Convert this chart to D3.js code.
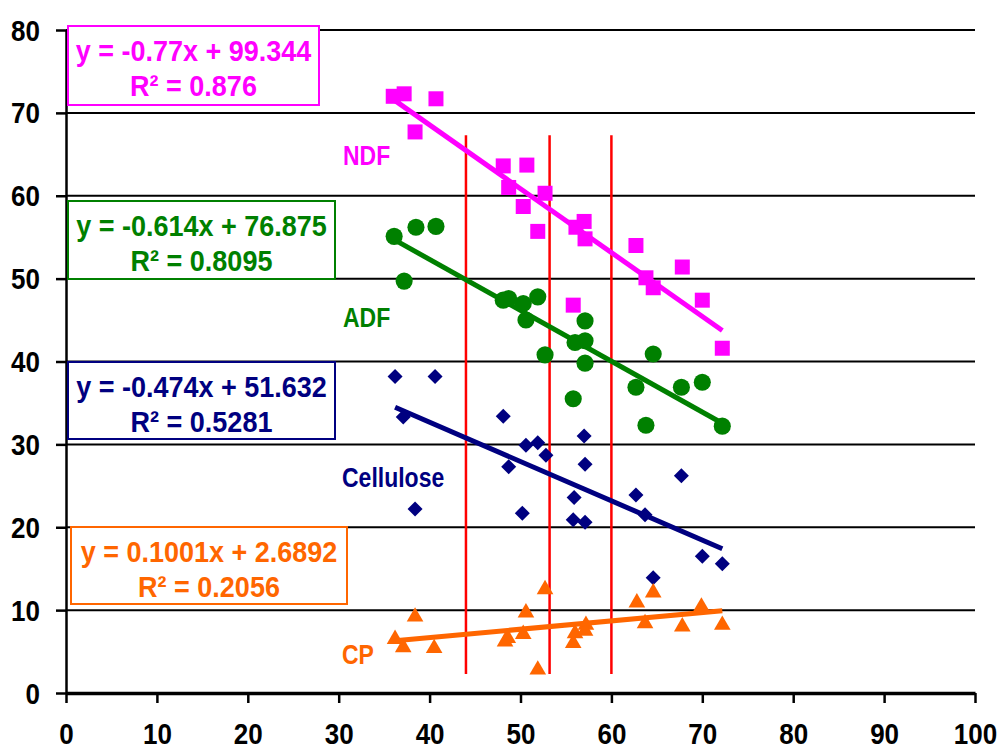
<!DOCTYPE html>
<html>
<head>
<meta charset="utf-8">
<script src="https://cdn.jsdelivr.net/npm/d3@7"></script>
<style>
  body { margin: 0; background: #fff; }
  text { font-family: "Liberation Sans", Arial, sans-serif; font-weight: bold; }
</style>
</head>
<body>
<svg width="998" height="750"></svg>
<script>
// Data
var ndfX = [36.0, 37.2, 40.7, 38.4, 48.1, 50.7, 48.7, 50.3, 52.7, 51.9, 57.0, 56.1, 57.1, 55.8, 62.7, 63.8, 64.6, 67.8, 70.0, 72.2];
var ndfY = [72.0, 72.3, 71.7, 67.7, 63.6, 63.7, 61.0, 58.7, 60.3, 55.7, 56.9, 56.2, 54.8, 46.8, 54.0, 50.1, 48.9, 51.4, 47.4, 41.6];

var adfX = [36.1, 38.5, 40.7, 37.2, 48.1, 48.7, 50.3, 51.9, 50.6, 57.1, 56.0, 57.1, 52.7, 57.1, 64.6, 55.8, 62.7, 67.7, 70.0, 63.8, 72.2];
var adfY = [55.1, 56.2, 56.3, 49.7, 47.4, 47.6, 47.0, 47.8, 45.0, 44.9, 42.3, 42.5, 40.8, 39.8, 40.9, 35.5, 36.9, 36.9, 37.5, 32.3, 32.2];

var celX = [36.2, 40.6, 37.1, 48.1, 50.6, 51.9, 52.8, 57.0, 57.1, 48.7, 67.7, 38.4, 50.2, 55.9, 62.7, 63.7, 55.8, 57.1, 70.0, 72.2, 64.6];
var celY = [38.2, 38.2, 33.3, 33.4, 29.9, 30.2, 28.7, 31.0, 27.6, 27.3, 26.2, 22.2, 21.7, 23.6, 23.9, 21.5, 20.9, 20.6, 16.5, 15.6, 13.9];

var cpX = [36.2, 37.1, 38.4, 40.5, 48.3, 48.6, 50.6, 50.3, 52.7, 51.9, 55.8, 56.0, 57.2, 57.1, 62.8, 64.6, 63.7, 67.8, 69.9, 72.2];
var cpY = [6.5, 5.5, 9.2, 5.4, 6.2, 6.6, 9.7, 7.1, 12.5, 2.8, 6.0, 7.2, 8.2, 7.5, 10.9, 12.1, 8.4, 8.0, 10.4, 8.2];

// Trendline coefficients (as printed)
var slopes = [-0.77, -0.614, -0.474, 0.1001];
var intercepts = [99.344, 76.875, 51.632, 2.6892];
var eqLabels = ["y = -0.77x + 99.344", "y = -0.614x + 76.875", "y = -0.474x + 51.632", "y = 0.1001x + 2.6892"];
var r2Labels = ["R\u00b2 = 0.876", "R\u00b2 = 0.8095", "R\u00b2 = 0.5281", "R\u00b2 = 0.2056"];
var seriesNames = ["NDF", "ADF", "Cellulose", "CP"];

// red reference lines
var refX = [44.0, 53.2, 60.0];
var refYRange = [2.3, 67.3];

var xTicks = [0, 10, 20, 30, 40, 50, 60, 70, 80, 90, 100];
var yTicks = [0, 10, 20, 30, 40, 50, 60, 70, 80];

var svg = d3.select("svg");
var colors = ["#ff00ff", "#008000", "#000080", "#ff6600"];

var x = d3.scaleLinear().domain([0, 100]).range([66, 975]);
var y = d3.scaleLinear().domain([0, 80]).range([693, 30]);

// gridlines
svg.append("g")
  .selectAll("line")
  .data(yTicks.filter(function (d) { return d > 0; }))
  .enter()
  .append("line")
  .attr("x1", x(0)).attr("x2", x(100))
  .attr("y1", function (d) { return y(d); })
  .attr("y2", function (d) { return y(d); })
  .attr("stroke", "#000")
  .attr("stroke-width", 2);

// axes
var xAxis = svg.append("g")
  .attr("transform", "translate(0," + y(0) + ")")
  .call(d3.axisBottom(x).tickValues(xTicks).tickSize(10).tickSizeOuter(0));
xAxis.select(".domain").attr("stroke-width", 3.5);
xAxis.selectAll(".tick line").attr("stroke-width", 2.5);
xAxis.selectAll(".tick text")
  .attr("font-size", 26)
  .attr("fill", "#000")
  .attr("dy", null)
  .attr("y", 0)
  .attr("transform", "translate(0,51) scale(1,1.1)");

var yAxis = svg.append("g")
  .attr("transform", "translate(" + x(0) + ",0)")
  .call(d3.axisLeft(y).tickValues(yTicks).tickSize(10).tickSizeOuter(0));
yAxis.select(".domain").attr("stroke-width", 2.5);
yAxis.selectAll(".tick line").attr("stroke-width", 2.5);
yAxis.selectAll(".tick text")
  .attr("font-size", 26)
  .attr("fill", "#000")
  .attr("x", 0)
  .attr("dy", null)
  .attr("transform", "translate(-26,10) scale(1,1.12)");

// equation boxes
var boxes = [
  { x: 68, y: 26, w: 251, h: 79 },
  { x: 68, y: 201, w: 267, h: 78 },
  { x: 68, y: 362, w: 267, h: 77 },
  { x: 71, y: 527, w: 276, h: 77 }
];
boxes.forEach(function (b, i) {
  var g = svg.append("g");
  g.append("rect")
    .attr("x", b.x).attr("y", b.y)
    .attr("width", b.w).attr("height", b.h)
    .attr("fill", "#fff")
    .attr("stroke", colors[i])
    .attr("stroke-width", 2);
  g.append("text")
    .attr("transform", "translate(" + (b.x + b.w / 2) + "," + (b.y + 35) + ") scale(1,1.08)")
    .attr("text-anchor", "middle")
    .attr("font-size", 27)
    .attr("fill", colors[i])
    .text(eqLabels[i]);
  g.append("text")
    .attr("transform", "translate(" + (b.x + b.w / 2) + "," + (b.y + 70) + ") scale(1,1.08)")
    .attr("text-anchor", "middle")
    .attr("font-size", 27)
    .attr("fill", colors[i])
    .text(r2Labels[i]);
});

// series labels
var labelPos = [[343, 165], [343, 327], [342, 487], [342, 664]];
seriesNames.forEach(function (n, i) {
  svg.append("text")
    .attr("transform", "translate(" + labelPos[i][0] + "," + labelPos[i][1] + ") scale(1,1.2)")
    .attr("font-size", 23)
    .attr("fill", colors[i])
    .text(n);
});

// red lines
svg.append("g")
  .selectAll("line")
  .data(refX)
  .enter()
  .append("line")
  .attr("x1", function (d) { return x(d); })
  .attr("x2", function (d) { return x(d); })
  .attr("y1", y(refYRange[0]))
  .attr("y2", y(refYRange[1]))
  .attr("stroke", "#ff0000")
  .attr("stroke-width", 2.5);

// markers
var diamond = function (s) {
  return "M0," + (-s) + "L" + s + ",0L0," + s + "L" + (-s) + ",0Z";
};
var series = [
  { xs: ndfX, ys: ndfY, path: d3.symbol(d3.symbolSquare, 225)() },
  { xs: adfX, ys: adfY, path: d3.symbol(d3.symbolCircle, 230)() },
  { xs: celX, ys: celY, path: diamond(7.5) },
  { xs: cpX, ys: cpY, path: d3.symbol(d3.symbolTriangle, 120)() }
];

series.forEach(function (s, i) {
  svg.append("g")
    .selectAll("path")
    .data(d3.range(s.xs.length))
    .enter()
    .append("path")
    .attr("d", s.path)
    .attr("fill", colors[i])
    .attr("transform", function (j) {
      return "translate(" + x(s.xs[j]) + "," + y(s.ys[j]) + ")";
    });

  // trendline over the data range
  var ext = d3.extent(s.xs);
  svg.append("line")
    .attr("x1", x(ext[0]))
    .attr("x2", x(ext[1]))
    .attr("y1", y(slopes[i] * ext[0] + intercepts[i]))
    .attr("y2", y(slopes[i] * ext[1] + intercepts[i]))
    .attr("stroke", colors[i])
    .attr("stroke-width", 5);
});
</script>
</body>
</html>
